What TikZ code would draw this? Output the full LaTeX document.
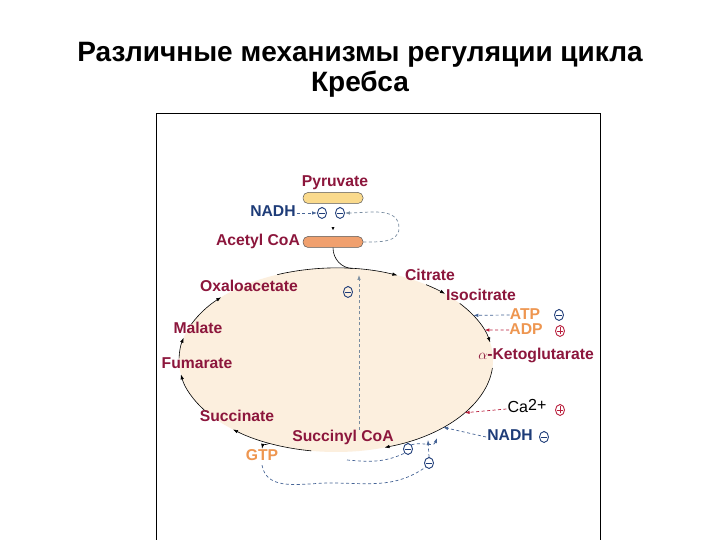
\documentclass[tikz,border=0pt]{standalone}
\usepackage{fontspec}
\setmainfont{Liberation Sans}
\usepackage{tikz}
\usetikzlibrary{calc}
\usetikzlibrary{shapes.geometric}
\usetikzlibrary{arrows.meta}
\definecolor{krmaroon}{RGB}{140,22,60}
\definecolor{krblue}{RGB}{30,60,120}
\definecolor{krdash}{RGB}{70,100,150}
\definecolor{krorange}{RGB}{238,150,80}
\definecolor{krred}{RGB}{185,30,60}
\definecolor{krcream}{RGB}{252,239,222}
\definecolor{krpyr}{RGB}{250,218,140}
\definecolor{kracc}{RGB}{240,160,110}
\definecolor{krgray}{RGB}{120,140,160}
\newcommand{\epoint}[2]{\coordinate (#1) at ($(cen)+(#2:157pt and 92pt)$);}
\newcommand{\cycarc}[3]{\draw[cyc] (#1) arc[start angle=#2,end angle=#3,x radius=157pt,y radius=92pt];}
\tikzset{
  lbl/.style={font=\fontsize{15.7}{18}\selectfont\bfseries, text=krmaroon, inner sep=1pt, text height=11pt, text depth=3pt},
  tight/.style={inner sep=0pt, text height=10pt, text depth=0pt},
  cyc/.style={black, line width=0.6pt, -{Latex[length=5pt,width=3.5pt]}},
  dsh/.style={line width=0.7pt, dash pattern=on 3pt off 2.5pt, -{Latex[length=5pt,width=3.5pt]}},
  sgn/.style={ellipse, line width=0.9pt, minimum width=9pt, minimum height=11pt, inner sep=0pt},
  negsgn/.style={sgn, draw=krblue, path picture={\draw[krblue, line width=0.9pt] ($(path picture bounding box.center)+(-3pt,0)$) -- ($(path picture bounding box.center)+(3pt,0)$);}},
  possgn/.style={sgn, draw=krred, path picture={\draw[krred, line width=0.9pt] ($(path picture bounding box.center)+(-3pt,0)$) -- ($(path picture bounding box.center)+(3pt,0)$) ($(path picture bounding box.center)+(0,-3.5pt)$) -- ($(path picture bounding box.center)+(0,3.5pt)$);}},
  bar/.style={rectangle, rounded corners=5pt, draw=black!65, line width=0.5pt, minimum width=60pt, minimum height=11pt, inner sep=0pt}
}
\begin{document}
\begin{tikzpicture}[x=1pt,y=1pt]
    \useasboundingbox (0,0) rectangle (720,540);
    \fill[white] (0,0) rectangle (720,540);

    \node[font=\fontsize{28}{32}\selectfont\bfseries, anchor=base] (title1) at (360,478) {Различные механизмы регуляции цикла};
    \node[font=\fontsize{28}{32}\selectfont\bfseries, anchor=base] (title2) at (360,448) {Кребса};
    \draw[line width=1pt] (156,0) -- (156,426) -- (600,426) -- (600,0);

    % cycle
    \coordinate (cen) at (336,180);
    \fill[krcream] (cen) ellipse [x radius=157pt, y radius=92pt];
    \epoint{e1}{112} \epoint{e2}{55} \epoint{e3}{38} \epoint{e4}{-5}
    \epoint{e5}{-99} \epoint{e6}{-146} \epoint{e7}{179} \epoint{e8}{157}
    \epoint{emrg}{84} \epoint{egtp}{-115}
    \epoint{eatp}{29} \epoint{eadp}{19} \epoint{eca}{-35} \epoint{enadh}{-47}
    \cycarc{e1}{112}{67}
    \cycarc{e2}{55}{46}
    \cycarc{e3}{38}{11}
    \cycarc{e4}{-5}{-72}
    \cycarc{e5}{-99}{-131}
    \cycarc{e6}{-146}{-171}
    \cycarc{e7}{179}{166}
    \cycarc{e8}{157}{137}

    \node[lbl] (pyr) at (335,357) {Pyruvate};
    \node[bar, fill=krpyr] (pyrbar) at (333,342) {};
    \node[lbl, text=krblue] (nadh1) at (273,327) {NADH};
    \node[negsgn] (m1) at (322,327) {};
    \node[negsgn] (m2) at (340,327) {};
    \node[lbl] (acoa) at (258,298) {Acetyl CoA};
    \node[bar, fill=kracc] (acbar) at (333,298) {};

    \node[lbl] (oaa) at (249,252) {Oxaloacetate};
    \node[lbl] (cit) at (430,263) {Citrate};
    \node[lbl] (icit) at (481,243) {Isocitrate};
    \node[lbl, tight, text=krorange] (atp) at (525,225) {ATP};
    \node[negsgn] (matp) at (559,225) {};
    \node[lbl, tight, text=krorange] (adp) at (526,210) {ADP};
    \node[possgn] (padp) at (560,209) {};
    \node[lbl] (akg) at (536,184) {$\alpha$-Ketoglutarate};
    \node[lbl] (mal) at (198,210) {Malate};
    \node[lbl] (fum) at (197,175) {Fumarate};
    \node[lbl] (suc) at (237,122) {Succinate};
    \node[lbl] (sca) at (343,102) {Succinyl CoA};
    \node[lbl, text=krorange] (gtp) at (262,83) {GTP};
    \node[lbl, text=black, font=\fontsize{16}{18}\selectfont] (ca) at (527,131) {Ca\raisebox{2.5pt}{2+}};
    \node[possgn] (pca) at (560,130) {};
    \node[lbl, text=krblue] (nadh2) at (510,103) {NADH};
    \node[negsgn] (mnadh) at (544,103) {};
    \node[negsgn] (m3) at (408,91) {};
    \node[negsgn] (m4) at (429,77) {};
    \node[negsgn] (mc) at (348,248) {};

    % pyruvate dehydrogenase
    \draw[-{Latex[length=3pt,width=3pt]}, line width=0.5pt, shorten <=24pt, shorten >=6pt] (pyrbar.south) -- (acbar.north);
    \draw[dsh, krdash] (nadh1.east) -- (m1.west);
    \coordinate (loop) at (399,312);
    \draw[dsh, krgray] (acbar.east) to[out=0, in=-90] (loop) to[out=90, in=0] (m2.east);
    \draw[line width=0.6pt] (acbar.south) to[out=-90, in=178] (emrg);

    % regulators
    \draw[dsh, krdash] (atp.west) -- (eatp);
    \draw[dsh, krred] (adp.west) -- (eadp);
    \draw[dsh, krred] (ca.west) -- (eca);
    \draw[dsh, krdash] (nadh2.west) -- (enadh);
    \coordinate (vt) at (359,265);
    \draw[dsh, krgray] (sca.north -| vt) -- (vt);
    \draw[cyc] (egtp) to[out=200, in=80] (gtp.north);

    \coordinate (sfb) at (347,80);
    \coordinate (ta) at (437,102);
    \coordinate (tb) at (428,100);
    \draw[dsh, krdash, -] (sfb) to[out=-5, in=205] (m3.south west);
    \draw[dsh, krdash] (m3.north east) to[out=20, in=-110] (ta);
    \draw[dsh, krdash, -] (gtp.south) to[out=-80, in=180] (330,57) to[out=0, in=215] (m4.south west);
    \draw[dsh, krdash] (m4.north) -- (tb);
\end{tikzpicture}
\end{document}
